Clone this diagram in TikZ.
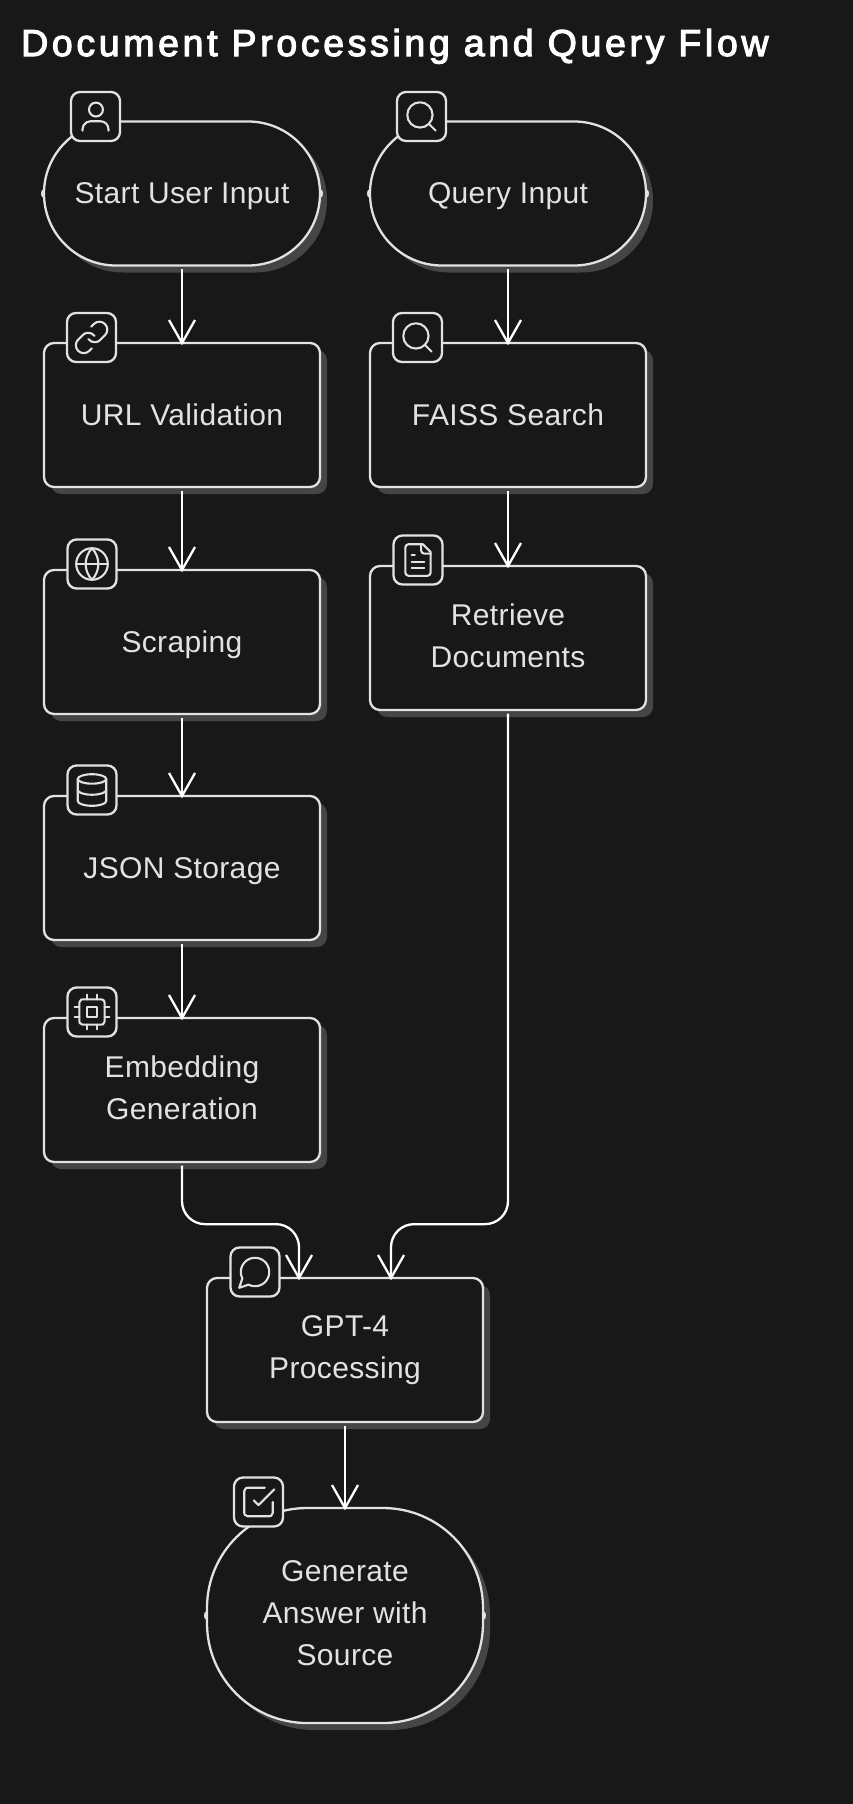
\documentclass[tikz,border=0pt]{standalone}
\usepackage{fontspec}
\setmainfont{Liberation Sans}
\usetikzlibrary{ arrows.meta, % For the open flow tips
                 shadows,     % For the offset box shadows
                 svg.path,    % For the small glyphs
               }
\definecolor{canvas}{HTML}{181818}
\definecolor{outline}{HTML}{E2E2E2}
\definecolor{shade}{HTML}{454545}

\tikzset{
  base/.style={draw=outline, fill=canvas, line width=2.3pt, rounded corners=10pt, inner sep=0pt,
    minimum width=276pt, minimum height=144pt, align=center, text=outline,
    font=\fontsize{30}{42}\selectfont\addfontfeature{LetterSpace=1.2},
    copy shadow={shadow xshift=7pt, shadow yshift=-7pt, fill=shade, draw=none}},
  box/.style={base, execute at begin node={\rule{0pt}{33.4pt}}, execute at end node=\strut},
  stack/.style={base, execute at end node={\rule[-4.3pt]{0pt}{1pt}}},
  pill/.style={box, rounded corners=71.9pt},
  blob/.style={stack, minimum height=215pt, rounded corners=100pt},
  iconbox/.style={draw=outline, fill=canvas, line width=2.3pt, rounded corners=9pt, inner sep=0pt,
    minimum width=49pt, minimum height=49pt},
  flow/.style={draw=white, line width=2.3pt, shorten <=2.5pt, shorten >=-3.5pt, -{Straight Barb[length=23pt,width=26pt,line width=2.3pt]}},
  glyph/.style={draw=outline, line width=2.1pt, line cap=round, line join=round},
  frame/.style={x=1pt, y=1pt, scale=1.58, yscale=-1, xshift=-12pt, yshift=-12pt},
  pics/personglyph/.style={code={
    \begin{scope}[frame]
      \draw[glyph] (12.3,7.6) circle[radius=4.4];
      \draw[glyph] svg {M 3.8 21 v -1 a 5 5 0 0 1 5 -5 h 6.4 a 5 5 0 0 1 5 5 v 1};
    \end{scope}}},
  pics/searchglyph/.style={code={
    \begin{scope}[frame]
      \draw[glyph] (11,11) circle[radius=8];
      \draw[glyph] svg {M 21 21 l -4.3 -4.3};
    \end{scope}}},
  pics/linkglyph/.style={code={
    \begin{scope}[frame]
      \draw[glyph] svg {M 10 13 a 5 5 0 0 0 7.54 0.54 l 3 -3 a 5 5 0 0 0 -7.07 -7.07 l -1.72 1.71};
      \draw[glyph] svg {M 14 11 a 5 5 0 0 0 -7.54 -0.54 l -3 3 a 5 5 0 0 0 7.07 7.07 l 1.71 -1.71};
    \end{scope}}},
  pics/globeglyph/.style={code={
    \begin{scope}[frame]
      \draw[glyph] (12,12) circle[radius=10];
      \draw[glyph] svg {M 12 2 a 14.5 14.5 0 0 0 0 20 a 14.5 14.5 0 0 0 0 -20};
      \draw[glyph] svg {M 2 12 h 20};
    \end{scope}}},
  pics/stackglyph/.style={code={
    \begin{scope}[frame]
      \draw[glyph] (12,5) ellipse[x radius=9, y radius=3];
      \draw[glyph] svg {M 3 5 V 19 a 9 3 0 0 0 18 0 V 5};
      \draw[glyph] svg {M 3 12 a 9 3 0 0 0 18 0};
    \end{scope}}},
  pics/chipglyph/.style={code={
    \begin{scope}[frame]
      \draw[glyph] svg {M 6 4 h 12 a 2 2 0 0 1 2 2 v 12 a 2 2 0 0 1 -2 2 h -12 a 2 2 0 0 1 -2 -2 v -12 a 2 2 0 0 1 2 -2 Z};
      \draw[glyph] svg {M 9 9 h 6 v 6 h -6 Z};
      \draw[glyph] svg {M 9 1 v 3 M 15 1 v 3 M 9 20 v 3 M 15 20 v 3 M 20 9 h 3 M 20 15 h 3 M 1 9 h 3 M 1 15 h 3};
    \end{scope}}},
  pics/pageglyph/.style={code={
    \begin{scope}[frame]
      \draw[glyph] svg {M 15 2 H 6 a 2 2 0 0 0 -2 2 v 16 a 2 2 0 0 0 2 2 h 12 a 2 2 0 0 0 2 -2 V 7 Z};
      \draw[glyph] svg {M 14 2 v 4 a 2 2 0 0 0 2 2 h 4};
      \draw[glyph] svg {M 10 9 H 8 M 16 13 H 8 M 16 17 H 8};
    \end{scope}}},
  pics/chatglyph/.style={code={
    \begin{scope}[frame]
      \draw[glyph] svg {M 7.9 20 A 9 9 0 1 0 4 16.1 L 2 22 Z};
    \end{scope}}},
  pics/checkglyph/.style={code={
    \begin{scope}[frame]
      \draw[glyph] svg {M 9 11 l 3 3 L 22 4};
      \draw[glyph] svg {M 21 12 v 7 a 2 2 0 0 1 -2 2 H 5 a 2 2 0 0 1 -2 -2 V 5 a 2 2 0 0 1 2 -2 h 11};
    \end{scope}}},
}

\begin{document}
\begin{tikzpicture}[x=1pt, y=-1pt]
  \fill[canvas] (0,0) rectangle (853,1804);

  \node[anchor=base west, inner sep=0pt, text=white, font=\fontsize{37.5}{44}\selectfont\addfontfeature{FakeBold=3,LetterSpace=9.7}] (title) at (21,56) {Document Processing and Query Flow};

  % left column
  \node[pill] (start) at (182,193.5) {Start User Input};
  \node[box] (url) at (182,415) {URL Validation};
  \node[box] (scrape) at (182,642) {Scraping};
  \node[box] (json) at (182,868) {JSON Storage};
  \node[stack] (embed) at (182,1090) {Embedding\\Generation};

  % right column
  \node[pill] (query) at (508,193.5) {Query Input};
  \node[box] (faiss) at (508,415) {FAISS Search};
  \node[stack] (retrieve) at (508,638) {Retrieve\\Documents};

  % bottom
  \node[stack] (gpt) at (345,1350) {GPT-4\\Processing};
  \node[blob] (answer) at (345,1615.5) {Generate\\Answer with\\Source};

  \foreach \n in {start,query,answer} {
    \fill[outline] (\n.west) ellipse (1.8 and 4);
    \fill[outline] (\n.east) ellipse (1.8 and 4);
  }

  \node[iconbox] (starticon) at (95.5,116.5) {};
  \node[iconbox] (urlicon) at (91.5,337.5) {};
  \node[iconbox] (scrapeicon) at (92,564) {};
  \node[iconbox] (jsonicon) at (92,790) {};
  \node[iconbox] (embedicon) at (92,1012) {};
  \node[iconbox] (queryicon) at (421.5,116.5) {};
  \node[iconbox] (faissicon) at (417.5,337.5) {};
  \node[iconbox] (retrieveicon) at (418,560) {};
  \node[iconbox] (gpticon) at (255,1272) {};
  \node[iconbox] (answericon) at (258.5,1502) {};

  \pic at (starticon) {personglyph};
  \pic at (urlicon) {linkglyph};
  \pic at (scrapeicon) {globeglyph};
  \pic at (jsonicon) {stackglyph};
  \pic at (embedicon) {chipglyph};
  \pic at (queryicon) {searchglyph};
  \pic at (faissicon) {searchglyph};
  \pic at (retrieveicon) {pageglyph};
  \pic at (gpticon) {chatglyph};
  \pic at (answericon) {checkglyph};

  \draw[flow] (start) -- (url);
  \draw[flow] (url) -- (scrape);
  \draw[flow] (scrape) -- (json);
  \draw[flow] (json) -- (embed);
  \draw[flow] (query) -- (faiss);
  \draw[flow] (faiss) -- (retrieve);
  \draw[flow, rounded corners=23pt] (embed.south) -- ++(0,61) -| ([xshift=-46pt]gpt.north);
  \draw[flow, rounded corners=23pt] (retrieve.south) -- ++(0,513) -| ([xshift=46pt]gpt.north);
  \draw[flow] (gpt) -- (answer);
\end{tikzpicture}
\end{document}
